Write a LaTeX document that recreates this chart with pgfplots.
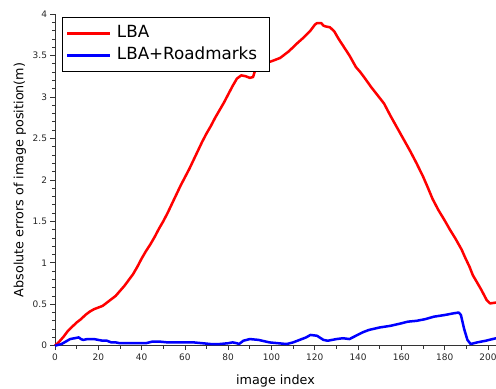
\documentclass[border=0pt]{standalone}
\usepackage{fontspec}
\setmainfont{DejaVu Sans}
\usepackage{pgfplots}
\pgfplotsset{compat=1.18}
\begin{document}
\begin{tikzpicture}
\begin{axis}[
  scale only axis,
  width=441bp, height=331.7bp,
  xmin=0, xmax=203.7, ymin=0, ymax=4,
  axis lines=left,
  axis line style={-, black!80, line width=0.8bp},
  xtick={0,20,...,200}, minor x tick num=1,
  ytick={0,0.5,1,1.5,2,2.5,3,3.5,4}, minor y tick num=4,
  tick align=outside,
  major tick length=4.5bp, minor tick length=2.8bp,
  every tick/.style={black!80, line width=0.7bp},
  ticklabel style={font=\fontsize{9}{10}\selectfont, text=black!85},
  /pgf/number format/assume math mode=true,
  xlabel={image index},
  ylabel={Absolute errors of image position(m)},
  label style={font=\fontsize{12.8}{14}\selectfont},
  xlabel style={at={(axis description cs:0.5,0)}, anchor=base, yshift=-38.6bp},
  ylabel style={at={([xshift=-31.7bp]axis description cs:0,0.5)}, rotate=0, anchor=base},
  legend style={at={(axis description cs:0.016,0.991)}, anchor=north west,
    draw=black, line width=0.8bp, font=\fontsize{16.8}{18}\selectfont,
    inner xsep=3.5bp, inner ysep=5.5bp, row sep=1bp,
    nodes={inner sep=2.5bp, text height=12.5bp, text depth=3.5bp},
    cells={anchor=west}},
  legend image code/.code={\draw[#1] (0bp,0bp) -- (43bp,0bp);},
  clip=false,
]
\coordinate (sw) at (rel axis cs:0,0);
\coordinate (ne) at (rel axis cs:1,1);
\addplot[red, line width=2.5bp, line join=round] coordinates {
(0,0) (2,0.05) (4,0.11) (6,0.18) (8,0.23) (10,0.28) (12,0.32) (14,0.37) (16,0.41) (18,0.44)
(20,0.46) (22,0.48) (24,0.52) (26,0.56) (28,0.60) (30,0.66) (32,0.72) (34,0.79) (36,0.86) (38,0.95)
(40,1.05) (42,1.14) (44,1.22) (46,1.31) (48,1.41) (50,1.50) (52,1.60) (54,1.71) (56,1.82) (58,1.93)
(60,2.03) (62,2.13) (64,2.24) (66,2.35) (68,2.46) (70,2.56) (72,2.65) (74,2.75) (76,2.84) (78,2.93)
(80,3.03) (82,3.13) (84,3.22) (86,3.26) (88,3.25) (90,3.23) (91.5,3.24) (93,3.37) (96,3.40) (100,3.43)
(104,3.47) (108,3.55) (112,3.65) (115,3.72) (118,3.80) (120,3.87) (121,3.89) (123,3.89) (124,3.86) (125,3.85)
(127,3.84) (129,3.79) (131,3.70) (133,3.62) (136,3.50) (139,3.36) (141,3.30) (143,3.23) (146,3.12) (149,3.02)
(152,2.92) (155,2.77) (158,2.63) (161,2.49) (164,2.35) (167,2.20) (170,2.04) (172,1.92) (174.4,1.77) (177,1.64)
(180,1.51) (182.4,1.40) (185,1.29) (187.8,1.16) (189.5,1.06) (191.5,0.95) (193,0.85) (194.8,0.77) (197,0.67) (199.4,0.55)
(201,0.51) (203.7,0.52)
};
\addlegendentry{\kern3bp LBA}
\addplot[blue, line width=2.5bp, line join=round] coordinates {
(0,0) (3,0.02) (5,0.05) (7,0.08) (9,0.09) (11,0.10) (12,0.08) (13,0.07) (15,0.08) (18,0.08)
(20,0.07) (22,0.06) (24,0.06) (26,0.04) (28,0.04) (30,0.03) (34,0.03) (38,0.03) (42,0.03) (45,0.05)
(48,0.05) (52,0.04) (56,0.04) (60,0.04) (64,0.04) (68,0.03) (72,0.02) (76,0.02) (80,0.03) (82,0.04)
(84,0.03) (85,0.02) (87,0.06) (90,0.08) (94,0.07) (99,0.04) (103,0.03) (107,0.02) (110,0.04) (113,0.07)
(116,0.10) (118,0.13) (121,0.12) (124,0.07) (126,0.06) (130,0.08) (133,0.09) (136,0.08) (139,0.12) (142,0.16)
(145,0.19) (150,0.22) (155,0.24) (160,0.27) (163,0.29) (167,0.30) (171,0.32) (175,0.35) (180,0.37) (184,0.39)
(186.5,0.40) (187.5,0.37) (189,0.20) (190.5,0.07) (192,0.02) (195,0.04) (199,0.06) (203.7,0.09)
};
\addlegendentry{\kern3bp LBA+Roadmarks\kern6bp}
\end{axis}
\pgfresetboundingbox
\path[use as bounding box] ([xshift=-55bp,yshift=-43.3bp]sw) rectangle ([yshift=14bp]ne);
\end{tikzpicture}
\end{document}
